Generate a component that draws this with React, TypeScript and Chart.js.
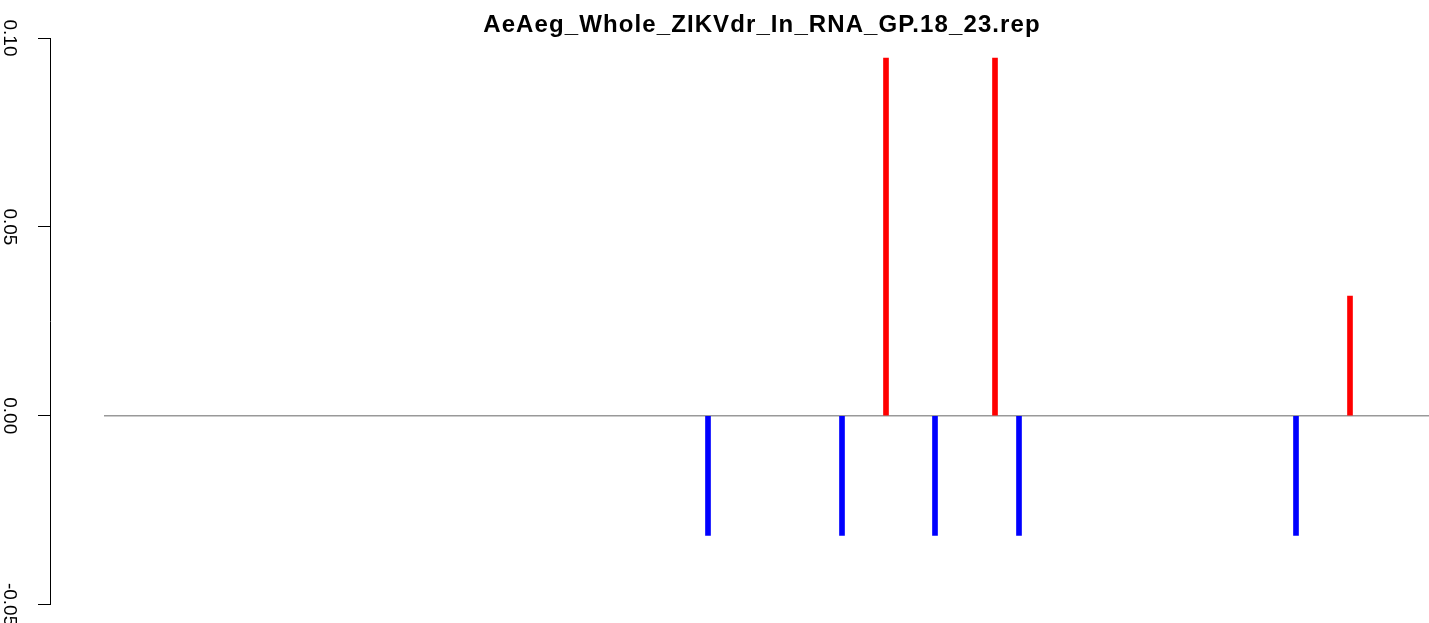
import React, { useEffect, useRef } from "react";
import { Chart, registerables } from "chart.js";

Chart.register(...registerables);

const TITLE = "AeAeg_Whole_ZIKVdr_In_RNA_GP.18_23.rep";
const yTicks = [-0.05, 0, 0.05, 0.1];
const sensePositions = [782, 891, 1246];
const senseValues = [0.0947, 0.0947, 0.0317];
const antisensePositions = [604, 738, 831, 915, 1192];
const antisenseValues = [-0.0317, -0.0317, -0.0317, -0.0317, -0.0317];
const baselineRange = [0, 1325];
const xRange = [-54, 1325];

const FONT = '"Liberation Sans", Arial, Helvetica, sans-serif';

const titlePlugin = {
  id: "rTitle",
  afterDraw(chart: any) {
    const ctx = chart.ctx;
    ctx.save();
    ctx.font = `bold 24px ${FONT}`;
    try {
      (ctx as any).letterSpacing = "1.1px";
    } catch (e) {}
    ctx.fillStyle = "#000";
    ctx.textAlign = "center";
    ctx.textBaseline = "alphabetic";
    ctx.fillText(TITLE, 762, 32);
    try {
      (ctx as any).letterSpacing = "0px";
    } catch (e) {}
    ctx.restore();
  },
};

export default function App() {
  const ref = useRef<HTMLCanvasElement | null>(null);
  useEffect(() => {
    document.body.style.margin = "0";
    document.body.style.overflow = "hidden";
    const canvas = ref.current;
    if (!canvas) return;
    const chart = new Chart(canvas, {
      type: "bar",
      data: {
        datasets: [
          {
            type: "line",
            data: baselineRange.map((x) => ({ x, y: 0 })),
            borderColor: "#999999",
            borderWidth: 1.5,
            pointRadius: 0,
            fill: false,
            order: 3,
          } as any,
          {
            data: sensePositions.map((x, i) => ({ x, y: senseValues[i] })),
            backgroundColor: "#ff0000",
            borderWidth: 0,
            barThickness: 5,
            grouped: false,
            order: 1,
          },
          {
            data: antisensePositions.map((x, i) => ({ x, y: antisenseValues[i] })),
            backgroundColor: "#0000ff",
            borderWidth: 0,
            barThickness: 5,
            grouped: false,
            order: 1,
          },
        ],
      },
      options: {
        animation: false,
        responsive: false,
        maintainAspectRatio: false,
        layout: { padding: { top: 38, bottom: 18, left: 0, right: 0 } },
        plugins: {
          legend: { display: false },
          title: { display: false },
          tooltip: { enabled: false },
        },
        scales: {
          x: {
            type: "linear",
            min: xRange[0],
            max: xRange[1],
            offset: false,
            display: false,
          },
          y: {
            type: "linear",
            min: yTicks[0],
            max: yTicks[yTicks.length - 1],
            afterBuildTicks: (axis: any) => {
              axis.ticks = yTicks.map((v) => ({ value: v }));
            },
            afterFit: (axis: any) => {
              axis.width = 50;
            },
            grid: {
              drawOnChartArea: false,
              drawTicks: true,
              tickLength: 12,
              color: "#000",
              lineWidth: 1,
            },
            border: { display: true, color: "#000", width: 1 },
            ticks: {
              minRotation: -90,
              maxRotation: -90,
              crossAlign: "center",
              padding: 7,
              color: "#000",
              font: { family: FONT, size: 19 },
              callback: (v: any) => Number(v).toFixed(2),
            },
          },
        },
      },
      plugins: [titlePlugin],
    });
    return () => chart.destroy();
  }, []);
  return (
    <div style={{ position: "fixed", left: 0, top: 0, width: 1429, height: 623, background: "#fff" }}>
      <canvas ref={ref} width={1429} height={623} style={{ width: 1429, height: 623 }} />
    </div>
  );
}
